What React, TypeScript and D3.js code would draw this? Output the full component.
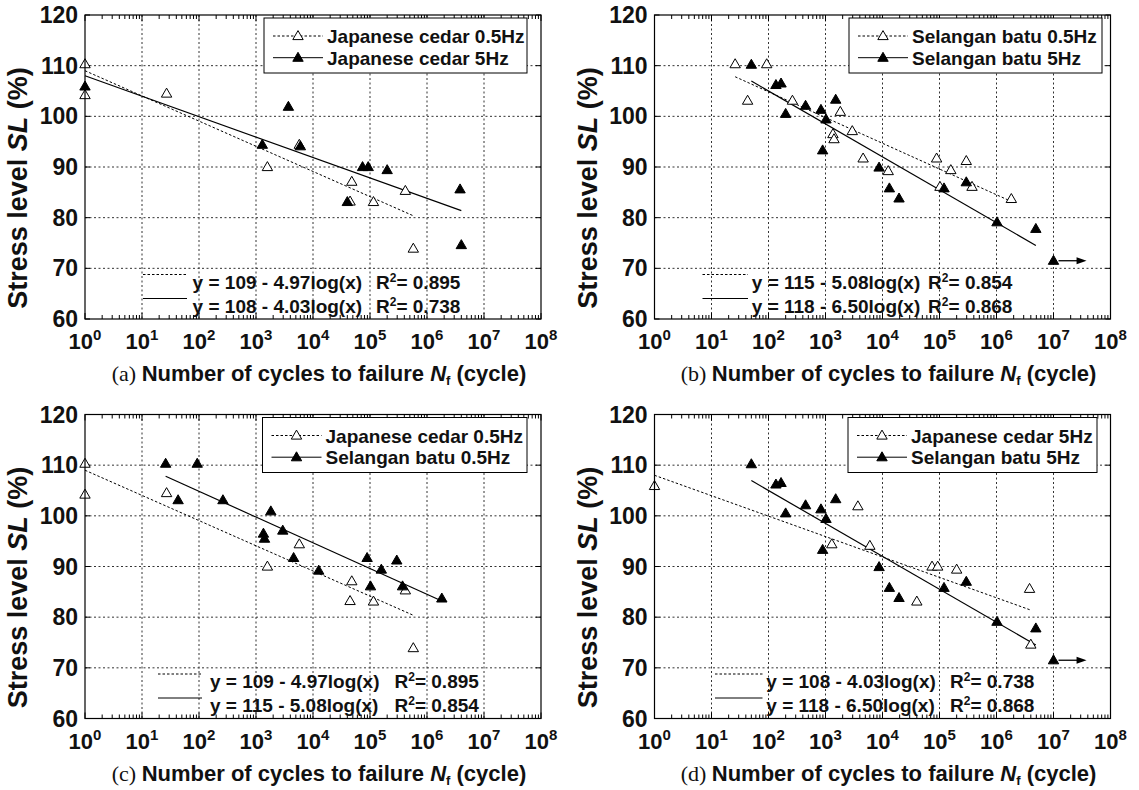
import React from 'react';
import * as d3 from 'd3';

// ---------- data (N_f cycles, stress level %) ----------
const jc05X = [1, 1, 27, 1585, 5750, 47900, 44700, 115000, 417000, 575000];
const jc05Y = [110.3, 104.2, 104.5, 90.0, 94.4, 87.1, 83.2, 83.1, 85.3, 73.9];

const jc5X = [1, 1290, 3700, 6000, 40000, 74000, 93000, 200000, 3800000, 4000000];
const jc5Y = [105.9, 94.4, 101.9, 94.1, 83.1, 90.0, 90.0, 89.4, 85.6, 74.6];

const sb05X = [26, 43, 93, 263, 1820, 1350, 1410, 2950, 4570, 12600, 89000, 102000, 158000, 295000, 372000, 1820000];
const sb05Y = [110.3, 103.1, 110.3, 103.1, 100.9, 96.5, 95.5, 97.1, 91.7, 89.2, 91.7, 86.1, 89.4, 91.2, 86.1, 83.7];

const sb5X = [50, 135, 166, 200, 447, 832, 1020, 1510, 891, 8710, 13200, 19500, 120000, 295000, 1020000, 4900000, 10000000];
const sb5Y = [110.2, 106.2, 106.5, 100.5, 102.1, 101.3, 99.4, 103.3, 93.3, 89.9, 85.8, 83.8, 85.8, 87.0, 79.1, 77.8, 71.5];
const sb5Runout = [false, false, false, false, false, false, false, false, false, false, false, false, false, false, false, false, true];
const runoutArrowEnd = 38000000;

// regression: y = a - b log(x)
const fitA = { jc05: 109, jc5: 108, sb05: 115, sb5: 118 };
const fitB = { jc05: 4.97, jc5: 4.03, sb05: 5.08, sb5: 6.5 };
const eqText = {
  jc05: 'y = 109 - 4.97log(x)',
  jc5: 'y = 108 - 4.03log(x)',
  sb05: 'y = 115 - 5.08log(x)',
  sb5: 'y = 118 - 6.50log(x)',
};
const r2Text = { jc05: '0.895', jc5: '0.738', sb05: '0.854', sb5: '0.868' };
const seriesNames = {
  jc05: 'Japanese cedar 0.5Hz',
  jc5: 'Japanese cedar 5Hz',
  sb05: 'Selangan batu 0.5Hz',
  sb5: 'Selangan batu 5Hz',
};

const xExps = [0, 1, 2, 3, 4, 5, 6, 7, 8];
const yTicks = [60, 70, 80, 90, 100, 110, 120];
const panelLetters = ['(a)', '(b)', '(c)', '(d)'];

type Key = 'jc05' | 'jc5' | 'sb05' | 'sb5';
const seriesData: Record<Key, { x: number[]; y: number[]; runout?: boolean[] }> = {
  jc05: { x: jc05X, y: jc05Y },
  jc5: { x: jc5X, y: jc5Y },
  sb05: { x: sb05X, y: sb05Y },
  sb5: { x: sb5X, y: sb5Y, runout: sb5Runout },
};

// ---------- layout ----------
const PW = 456;
const PH = 304;
const panels = [
  { x0: 85, y0: 15, open: 'jc05' as Key, filled: 'jc5' as Key, leg: [179, 263], eq: [58, 102, 107.6, 291] },
  { x0: 654.5, y0: 15, open: 'sb05' as Key, filled: 'sb5' as Key, leg: [194.5, 253], eq: [48, 93.5, 97.3, 273.6] },
  { x0: 85, y0: 414.5, open: 'jc05' as Key, filled: 'sb05' as Key, leg: [177.5, 264.5], eq: [73, 117, 125, 309.5] },
  { x0: 654.5, y0: 414.5, open: 'jc5' as Key, filled: 'sb5' as Key, leg: [193.5, 249], eq: [60.5, 108, 111.8, 295.5] },
];

const SANS = '"Liberation Sans", Arial, Helvetica, sans-serif';
const SERIF = '"Liberation Serif", "Times New Roman", serif';

function tri(cx: number, cy: number) {
  const h = 9, w = 5.2;
  return `M${cx},${cy - h * 0.6}L${cx + w},${cy + h * 0.4}L${cx - w},${cy + h * 0.4}Z`;
}

function Panel({ p, idx }: { p: typeof panels[number]; idx: number }) {
  const xs = d3.scaleLog().domain([1, 1e8]).range([0, PW]);
  const ys = d3.scaleLinear().domain([60, 120]).range([PH, 0]);
  const minor: number[] = [];
  for (let e = 0; e < 8; e++) for (let k = 2; k <= 9; k++) minor.push(k * Math.pow(10, e));

  const fitLine = (k: Key) => {
    const s = seriesData[k];
    const xv = s.x.filter((_, i) => !(s.runout && s.runout[i]));
    const lo = d3.min(xv) as number;
    const hi = d3.max(xv) as number;
    const pts: [number, number][] = [lo, hi].map((x) => [xs(x), ys(fitA[k] - fitB[k] * Math.log10(x))]);
    return d3.line()(pts) as string;
  };

  const markers = (k: Key, filled: boolean) => {
    const s = seriesData[k];
    return s.x.map((x, i) => (
      <g key={k + i}>
        {s.runout && s.runout[i] ? (
          <g>
            <line x1={xs(x) + 5} x2={xs(runoutArrowEnd) - 8} y1={ys(s.y[i])} y2={ys(s.y[i])} stroke="#000" strokeWidth={1.3} />
            <path
              d={`M${xs(runoutArrowEnd)},${ys(s.y[i])}L${xs(runoutArrowEnd) - 10},${ys(s.y[i]) - 3.5}L${xs(runoutArrowEnd) - 10},${ys(s.y[i]) + 3.5}Z`}
              fill="#000"
            />
          </g>
        ) : null}
        <path d={tri(xs(x), ys(s.y[i]))} fill={filled ? '#000' : '#fff'} stroke="#000" strokeWidth={1} />
      </g>
    ));
  };

  const [legL, legW] = p.leg;
  const [eqL0, eqL1, eqT, eqR] = p.eq;
  const row1 = 259.5;
  const row2 = 283.5;
  const eqRow = (k: Key, y: number, dashed: boolean) => (
    <g>
      <line x1={eqL0} x2={eqL1} y1={y} y2={y} stroke="#000" strokeWidth={1} strokeDasharray={dashed ? '2.5,2' : undefined} />
      <text x={eqT} y={y + 14} fontFamily={SANS} fontWeight="bold" fontSize={19} fill="#111">
        {eqText[k]}
      </text>
      <text x={eqR} y={y + 14} fontFamily={SANS} fontWeight="bold" fontSize={19} fill="#111">
        R<tspan dy={-7} fontSize={12}>2</tspan>
        <tspan dy={7}>= {r2Text[k]}</tspan>
      </text>
    </g>
  );

  const legRow = (k: Key, y: number, filled: boolean) => (
    <g>
      <line x1={legL + 9} x2={legL + 59} y1={y} y2={y} stroke="#000" strokeWidth={1} strokeDasharray={filled ? undefined : '2.5,2'} />
      <path d={tri(legL + 34, y)} fill={filled ? '#000' : '#fff'} stroke="#000" strokeWidth={1} />
      <text x={legL + 63} y={y + 7} fontFamily={SANS} fontWeight="bold" fontSize={19} fill="#111">
        {seriesNames[k]}
      </text>
    </g>
  );

  return (
    <g transform={`translate(${p.x0},${p.y0})`}>
      <rect x={0} y={0} width={PW} height={PH} fill="#fff" />
      {/* grid */}
      {xExps.slice(1, -1).map((e) => (
        <line key={'gx' + e} x1={xs(Math.pow(10, e))} x2={xs(Math.pow(10, e))} y1={0} y2={PH} stroke="#333" strokeWidth={1} strokeDasharray="2,2.5" />
      ))}
      {yTicks.slice(1, -1).map((v) => (
        <line key={'gy' + v} x1={0} x2={PW} y1={ys(v)} y2={ys(v)} stroke="#333" strokeWidth={1} strokeDasharray="2,2.5" />
      ))}
      {/* minor ticks */}
      {minor.map((m, i) => (
        <g key={'m' + i}>
          <line x1={xs(m)} x2={xs(m)} y1={PH} y2={PH - 4} stroke="#000" strokeWidth={1} />
          <line x1={xs(m)} x2={xs(m)} y1={0} y2={4} stroke="#000" strokeWidth={1} />
        </g>
      ))}
      {xExps.map((e) => (
        <g key={'M' + e}>
          <line x1={xs(Math.pow(10, e))} x2={xs(Math.pow(10, e))} y1={PH} y2={PH - 6} stroke="#000" strokeWidth={1} />
          <line x1={xs(Math.pow(10, e))} x2={xs(Math.pow(10, e))} y1={0} y2={6} stroke="#000" strokeWidth={1} />
        </g>
      ))}
      {yTicks.map((v) => (
        <g key={'yt' + v}>
          <line x1={0} x2={5} y1={ys(v)} y2={ys(v)} stroke="#000" strokeWidth={1} />
          <line x1={PW} x2={PW - 5} y1={ys(v)} y2={ys(v)} stroke="#000" strokeWidth={1} />
        </g>
      ))}
      {/* fit lines */}
      <path d={fitLine(p.open)} fill="none" stroke="#000" strokeWidth={1} strokeDasharray="2.5,2" />
      <path d={fitLine(p.filled)} fill="none" stroke="#000" strokeWidth={1.2} />
      {/* equations */}
      {eqRow(p.open, row1, true)}
      {eqRow(p.filled, row2, false)}
      {/* markers */}
      {markers(p.open, false)}
      {markers(p.filled, true)}
      {/* legend */}
      <rect x={legL} y={3} width={legW} height={55} fill="#fff" stroke="#000" strokeWidth={1} />
      {legRow(p.open, 21, false)}
      {legRow(p.filled, 42.7, true)}
      {/* frame */}
      <rect x={0} y={0} width={PW} height={PH} fill="none" stroke="#000" strokeWidth={1.2} />
      {/* tick labels */}
      {yTicks.map((v) => (
        <text key={'yl' + v} x={-7} y={ys(v) + 8} textAnchor="end" fontFamily={SANS} fontWeight="bold" fontSize={23} fill="#111">
          {v}
        </text>
      ))}
      {xExps.map((e) => (
        <text key={'xl' + e} x={xs(Math.pow(10, e))} y={PH + 30} textAnchor="middle" fontFamily={SANS} fontWeight="bold" fontSize={22} fill="#111">
          10<tspan dy={-9} fontSize={15}>{e}</tspan>
        </text>
      ))}
      {/* axis titles */}
      <text x={PW / 2 + 6} y={PH + 62} textAnchor="middle" fontSize={22} fill="#111">
        <tspan fontFamily={SERIF}>{panelLetters[idx]} </tspan>
        <tspan fontFamily={SANS} fontWeight="bold">Number of cycles to failure </tspan>
        <tspan fontFamily={SANS} fontWeight="bold" fontStyle="italic">N</tspan>
        <tspan fontFamily={SANS} fontWeight="bold" fontSize={13} dy={4}>f</tspan>
        <tspan fontFamily={SANS} fontWeight="bold" dy={-4}> (cycle)</tspan>
      </text>
      <text
        transform={`translate(${-58},${173}) rotate(-90)`}
        textAnchor="middle"
        fontFamily={SANS}
        fontWeight="bold"
        fontSize={27}
        fill="#111"
      >
        Stress level <tspan fontStyle="italic">SL</tspan> (%)
      </text>
    </g>
  );
}

export default function App() {
  return (
    <svg width={1139} height={790} style={{ position: 'absolute', left: 0, top: 0, background: '#fff' }}>
      <rect width={1139} height={790} fill="#fff" />
      {panels.map((p, i) => (
        <Panel key={i} p={p} idx={i} />
      ))}
    </svg>
  );
}
